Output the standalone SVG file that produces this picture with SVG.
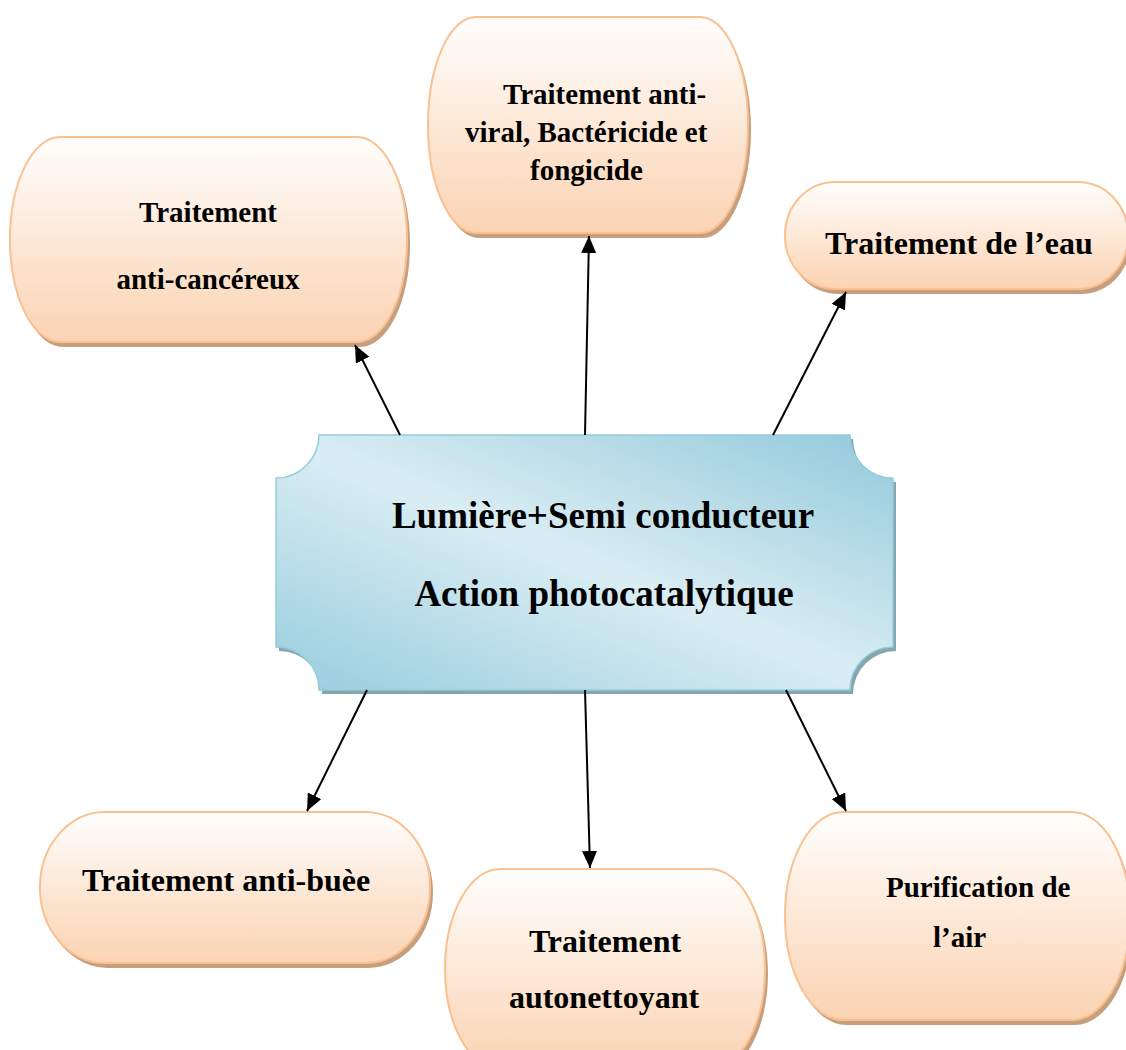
<svg xmlns="http://www.w3.org/2000/svg" width="1126" height="1050" viewBox="0 0 1126 1050">
  <defs>
    <linearGradient id="peach" x1="0" y1="0" x2="0" y2="1">
      <stop offset="0" stop-color="#fffefd"/>
      <stop offset="1" stop-color="#fbd3b2"/>
    </linearGradient>
    <linearGradient id="blue" x1="1" y1="0" x2="0" y2="1">
      <stop offset="0" stop-color="#92c9da"/>
      <stop offset="0.5" stop-color="#daedf4"/>
      <stop offset="1" stop-color="#97cddd"/>
    </linearGradient>
    <marker id="arrow" markerUnits="userSpaceOnUse" markerWidth="18" markerHeight="16" refX="17" refY="7.5" orient="auto">
      <path d="M0,0 L17,7.5 L0,15 Z" fill="#000"/>
    </marker>
    <style>
      .pshadow { fill: #c69f7e; }
      .pnode { fill: url(#peach); stroke: #fac08f; stroke-width: 2; }
      .bshadow { fill: #87a5ae; }
      .bnode { fill: url(#blue); stroke: #93cddd; stroke-width: 1.5; }
      text { font-family: "Liberation Serif", "Times New Roman", serif; font-weight: bold; fill: #000; }
      .t29 { font-size: 29px; }
      .t32 { font-size: 32px; }
      .t37 { font-size: 37px; }
      .conn { stroke: #000; stroke-width: 2; fill: none; marker-end: url(#arrow); }
    </style>
  </defs>

  <g id="node-anticancer">
    <rect class="pshadow" x="13" y="142" width="397" height="205" rx="50" ry="102"/>
    <rect class="pnode" x="10" y="137" width="397" height="205" rx="50" ry="102"/>
    <text class="t29" x="208" y="222" text-anchor="middle">Traitement</text>
    <text class="t29" x="208" y="289" text-anchor="middle">anti-cancéreux</text>
  </g>

  <g id="node-antiviral">
    <rect class="pshadow" x="431" y="22" width="320" height="216" rx="48" ry="108"/>
    <rect class="pnode" x="428" y="17" width="320" height="216" rx="48" ry="108"/>
    <text class="t29" x="503" y="104">Traitement anti-</text>
    <text class="t29" x="465" y="142">viral, Bactéricide et</text>
    <text class="t29" x="530" y="180">fongicide</text>
  </g>

  <g id="node-eau">
    <rect class="pshadow" x="788" y="187" width="343" height="107" rx="50" ry="53"/>
    <rect class="pnode" x="785" y="182" width="343" height="107" rx="50" ry="53"/>
    <text class="t32" x="825" y="254">Traitement de l’eau</text>
  </g>

  <g id="node-antibuee">
    <rect class="pshadow" x="43" y="817" width="390" height="151" rx="65" ry="75"/>
    <rect class="pnode" x="40" y="812" width="390" height="151" rx="65" ry="75"/>
    <text class="t32" x="82" y="891">Traitement anti-buèe</text>
  </g>

  <g id="node-autonettoyant">
    <rect class="pshadow" x="448" y="874" width="320" height="200" rx="55" ry="100"/>
    <rect class="pnode" x="445" y="869" width="320" height="200" rx="55" ry="100"/>
    <text class="t32" x="605" y="952" text-anchor="middle">Traitement</text>
    <text class="t32" x="604" y="1008" text-anchor="middle">autonettoyant</text>
  </g>

  <g id="node-air">
    <rect class="pshadow" x="788" y="817" width="345" height="208" rx="58" ry="104"/>
    <rect class="pnode" x="785" y="812" width="345" height="208" rx="58" ry="104"/>
    <text class="t29" x="886" y="897">Purification de</text>
    <text class="t29" x="933" y="947">l’air</text>
  </g>

  <g id="node-center">
    <path class="bshadow" d="M322,439 L853,439 A43 43 0 0 0 896,482 L896,651 A43 43 0 0 0 853,694 L322,694 A43 43 0 0 0 279,651 L279,482 A43 43 0 0 0 322,439 Z"/>
    <path class="bnode" d="M319,435 L850,435 A43 43 0 0 0 893,478 L893,647 A43 43 0 0 0 850,690 L319,690 A43 43 0 0 0 276,647 L276,478 A43 43 0 0 0 319,435 Z"/>
    <text class="t37" x="603" y="528" text-anchor="middle">Lumière+Semi conducteur</text>
    <text class="t37" x="604" y="606" text-anchor="middle">Action photocatalytique</text>
  </g>

  <g id="connectors">
    <line class="conn" x1="400" y1="435" x2="355" y2="345"/>
    <line class="conn" x1="585" y1="435" x2="589" y2="236"/>
    <line class="conn" x1="773" y1="435" x2="846" y2="292"/>
    <line class="conn" x1="367" y1="690" x2="307" y2="811"/>
    <line class="conn" x1="585" y1="690" x2="590" y2="868"/>
    <line class="conn" x1="786" y1="690" x2="846" y2="811"/>
  </g>
</svg>
